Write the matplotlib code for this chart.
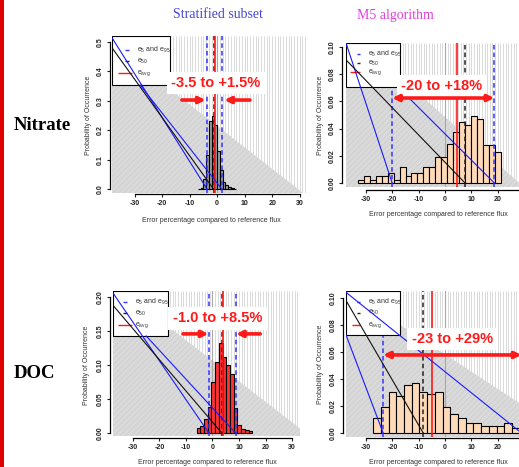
import numpy as np
import matplotlib
matplotlib.use("Agg")
import matplotlib.pyplot as plt
from matplotlib.patches import Rectangle, Polygon

plt.rcParams['font.family'] = ['Liberation Sans', 'DejaVu Sans']
plt.rcParams['mathtext.default'] = 'regular'
plt.rcParams['hatch.linewidth'] = 0.5

W, H = 519, 467

# ---- data ----
# Nitrate, stratified subset (bin edges in %, probabilities)
nit_strat_edges = np.arange(-7, 8, 1.0)
nit_strat_prob = [0.003, 0.006, 0.035, 0.118, 0.232, 0.248, 0.218, 0.130,
                  0.065, 0.025, 0.016, 0.009, 0.005, 0.003]
nit_strat_e = [-3.6, -1.2, 1.8]      # e5, e50, e95
nit_strat_eavg = -0.8

# Nitrate, M5 algorithm
nit_m5_edges = np.linspace(-33.0, 21.2, 25)
nit_m5_prob = [0.0025, 0.005, 0.0025, 0.005, 0.005, 0.007, 0.0025, 0.012,
               0.005, 0.007, 0.007, 0.0115, 0.0115, 0.019, 0.019, 0.0285,
               0.0375, 0.045, 0.0425, 0.049, 0.047, 0.028, 0.028, 0.023]
nit_m5_e = [-20.0, 7.6, 18.7]
nit_m5_eavg = 4.6

# DOC, stratified subset
doc_strat_edges = np.linspace(-6.0, 15.0, 16)
doc_strat_prob = [0.008, 0.010, 0.021, 0.039, 0.075, 0.104, 0.132, 0.112,
                  0.100, 0.087, 0.037, 0.012, 0.007, 0.005, 0.003]
doc_strat_e = [-1.3, 3.6, 8.8]
doc_strat_eavg = 3.8

# DOC, M5 algorithm
doc_m5_edges = np.linspace(-27.3, 28.37, 20)
doc_m5_prob = [0.011, 0.0195, 0.030, 0.027, 0.0355, 0.037, 0.030, 0.0285,
               0.030, 0.0195, 0.014, 0.011, 0.0072, 0.0072, 0.0055, 0.0055,
               0.0055, 0.0075, 0.004]
doc_m5_e = [-23.5, -8.3, 29.0]
doc_m5_eavg = -4.8

range_labels = ['-3.5 to +1.5%', '-20 to +18%', '-1.0 to +8.5%', '-23 to +29%']
xticks_full = [-30, -20, -10, 0, 10, 20, 30]
xticks_cut = [-30, -20, -10, 0, 10, 20]   # right column runs off the page

fig = plt.figure(figsize=(W / 100, H / 100), dpi=100)


def fx(px):
    return px / W


def fy(py):
    return 1 - py / H


def panel(box, xlim, ylim, yticks, yfmt, xticks, edges, prob, color, e, eavg,
          diag_start, shade, leg, label, label_xy, arrows, off):
    l, t, r, b = box
    ax = fig.add_axes([fx(l), fy(b), (r - l) / W, (b - t) / H])
    ax.set_xlim(xlim)
    ax.set_ylim(ylim)
    ax.set_facecolor('white')

    # background: vertical light grey lines and shaded wedge
    ax.vlines(np.arange(np.ceil(xlim[0]), xlim[1] + 1, 1.0), ylim[0], ylim[1],
              color='#d4d4d4', lw=0.6, zorder=0.5)
    (xa, ya), (xb, yb) = shade
    k = (yb - ya) / (xb - xa)
    f0 = ya + k * (xlim[0] - xa)
    f1 = ya + k * (xlim[1] - xa)
    ax.add_patch(Polygon([(xlim[0], -1), (xlim[0], f0), (xlim[1], f1), (xlim[1], -1)],
                         closed=True, fc='#dadada', ec='#cbcbcb', hatch='//////',
                         lw=0, zorder=1))
    ax.axvline(0, color='#a8a8a8', lw=0.8, zorder=1.5)

    # histogram
    ax.bar(edges[:-1], prob, width=np.diff(edges), align='edge', color=color,
           edgecolor='black', lw=0.8, zorder=3)

    # quantile lines
    ax.axvline(e[0], color='#3333ff', lw=1.1, ls=(0, (3, 2)), zorder=4)
    ax.axvline(e[2], color='#3333ff', lw=1.1, ls=(0, (3, 2)), zorder=4)
    ax.axvline(e[1], color='#222222', lw=1.1, ls=(0, (3, 2)), zorder=4)
    ax.axvline(eavg, color='#ff1a1a', lw=1.2, zorder=4.2)

    # legend box
    lx1, ly0, rows, tx, samp, rsamp = leg
    rect = Rectangle((0, ly0), lx1, 1 - ly0, transform=ax.transAxes,
                     fc='white', ec='black', lw=0.8, zorder=5)
    ax.add_patch(rect)
    names = ['e$_5$ and e$_{95}$', 'e$_{50}$', 'e$_{avg}$']
    cols = ['#3333ff', '#222222', '#ff1a1a']
    for i, (nm, c) in enumerate(zip(names, cols)):
        xs = rsamp if i == 2 else samp
        ax.plot(xs, [rows[i], rows[i]], color=c, lw=1.0, transform=ax.transAxes,
                zorder=5.5, solid_capstyle='butt')
        tt = ax.text(tx, rows[i], nm, transform=ax.transAxes, fontsize=5,
                     color='#333333', va='center', ha='left', zorder=5.5)
        tt.set_clip_path(rect)

    # diagonal lines from the legend to the quantile feet
    dcols = ['#1a1aff', '#111111', '#1a1aff']
    for (sx, sy), ex, c in zip(diag_start, e, dcols):
        ax.plot([sx, ex], [sy, 0], color=c, lw=0.8, zorder=6)

    # range annotation
    ax.text(label_xy[0], label_xy[1], label, color='#ff1a1a', fontsize=10.5,
            fontweight='bold', ha='center', va='center', zorder=7,
            bbox=dict(boxstyle='square,pad=0.3', fc='white', ec='none'))
    for style, x0, x1, yy in arrows:
        ax.annotate('', xy=(x1, yy), xytext=(x0, yy), zorder=8,
                    arrowprops=dict(arrowstyle=style, color='#ff1a1a', lw=2.6,
                                    mutation_scale=9, shrinkA=0, shrinkB=0),
                    annotation_clip=False)

    # axes in R style
    for s in ['top', 'right']:
        ax.spines[s].set_visible(False)
    ax.spines['left'].set_position(('outward', off[0]))
    ax.spines['bottom'].set_position(('outward', off[1]))
    ax.spines['left'].set_bounds(yticks[0], yticks[-1])
    ax.spines['bottom'].set_bounds(-30, 30)
    for s in ['left', 'bottom']:
        ax.spines[s].set_linewidth(0.9)
        ax.spines[s].set_zorder(9)
    ax.set_xticks(xticks)
    ax.set_xticklabels([str(v) for v in xticks], fontsize=5, fontweight='bold')
    ax.set_yticks(yticks)
    ax.set_yticklabels([yfmt % v for v in yticks], fontsize=5, fontweight='bold',
                       rotation=90, va='center')
    ax.tick_params(length=2.3, width=0.8, pad=2, colors='#222222')
    return ax


# Nitrate, stratified
panel((112, 36, 308, 193), (-38.2, 33.0), (-0.012, 0.52), np.arange(0, 0.51, 0.1), '%.1f',
      xticks_full, nit_strat_edges, nit_strat_prob, '#9e9e9e', nit_strat_e, nit_strat_eavg,
      [(-38.2, 0.514), (-38.2, 0.48), (-28.0, 0.354)],
      [(1.0, 0.208), (33.0, -0.025)],
      (0.296, 0.688, (0.911, 0.841, 0.766), 0.128, (0.066, 0.087), (0.031, 0.102)),
      range_labels[0], (-0.6, 0.361),
      [('-|>', -12.8, -4.2, 0.303), ('-|>', 11.9, 2.6, 0.303)], (1.5, 0.5))

# Nitrate, M5
panel((346, 43, 532, 187), (-37.5, 33.0), (-0.003, 0.103), np.arange(0, 0.101, 0.02), '%.2f',
      xticks_cut, nit_m5_edges, nit_m5_prob, '#ffdab9', nit_m5_e, nit_m5_eavg,
      [(-37.5, 0.103), (-37.5, 0.0906), (-17.8, 0.0706)],
      [(-17.0, 0.078), (27.7, 0.0007)],
      (0.292, 0.694, (0.924, 0.859, 0.80), 0.119, (0.06, 0.076), (0.022, 0.076)),
      range_labels[1], (-1.3, 0.0713),
      [('<|-|>', -20.0, 18.7, 0.0625)], (3.0, 2.2))

# DOC, stratified
panel((113, 291, 300, 436), (-37.5, 33.0), (-0.004, 0.209), np.arange(0, 0.201, 0.05), '%.2f',
      xticks_full, doc_strat_edges, doc_strat_prob, '#ff3333', doc_strat_e, doc_strat_eavg,
      [(-37.5, 0.206), (-37.5, 0.188), (-25.0, 0.143)],
      [(-8.4, 0.132), (32.3, 0.009)],
      (0.294, 0.69, (0.922, 0.846, 0.766), 0.118, (0.053, 0.075), (0.027, 0.10)),
      range_labels[2], (1.9, 0.169),
      [('-|>', -11.1, -1.5, 0.146), ('-|>', 18.0, 8.9, 0.146)], (2.2, 1.5))

# DOC, M5
panel((346, 291, 532, 437), (-37.6, 33.0), (-0.003, 0.105), np.arange(0, 0.101, 0.02), '%.2f',
      xticks_cut, doc_m5_edges, doc_m5_prob, '#ffdab9', doc_m5_e, doc_m5_eavg,
      [(-37.6, 0.0725), (-37.6, 0.098), (-37.6, 0.104)],
      [(-17.1, 0.080), (28.1, 0.0222)],
      (0.29, 0.699, (0.922, 0.851, 0.767), 0.12, (0.057, 0.075), (0.03, 0.075)),
      range_labels[3], (2.8, 0.0695),
      [('<|-|>', -23.5, 29.0, 0.0577)], (2.4, 0.8))

# axis titles
xl = 'Error percentage compared to reference flux'
yl = 'Probability of Occurrence'
for x, y in [(211, 220), (438, 214), (207, 462), (438, 462)]:
    fig.text(fx(x), fy(y), xl, fontsize=5, color='#333333', ha='center', va='center')
for x, y in [(88, 115), (320, 115), (87, 365), (321, 364)]:
    fig.text(fx(x), fy(y), yl, fontsize=5, color='#333333', ha='center', va='center',
             rotation=90)

# column and row titles
fig.text(fx(218), fy(15), 'Stratified subset', family='Liberation Serif', fontsize=10,
         color='#4646d8', ha='center', va='center')
fig.text(fx(395), fy(15), 'M5 algorithm', family='Liberation Serif', fontsize=10,
         color='#e040e0', ha='center', va='center')
fig.text(fx(14), fy(125), 'Nitrate', family='Liberation Serif', fontsize=13.5,
         fontweight='bold', ha='left', va='center')
fig.text(fx(14), fy(373), 'DOC', family='Liberation Serif', fontsize=13.5,
         fontweight='bold', ha='left', va='center')

# red bar on the left edge
fig.patches.append(Rectangle((0, 0), fx(3.5), 1, transform=fig.transFigure,
                             fc='#e00000', ec='none'))

fig.savefig('out.png', dpi=100)
